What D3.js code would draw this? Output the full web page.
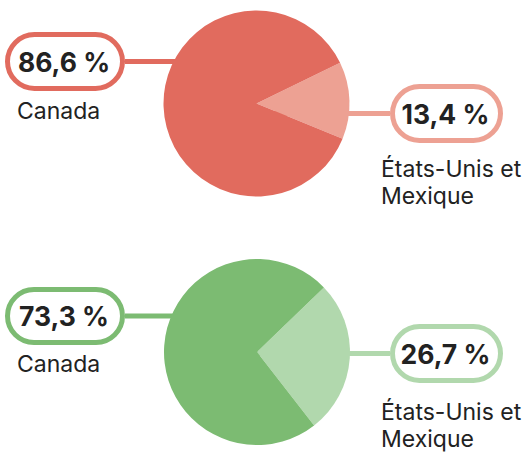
<!DOCTYPE html>
<html>
<head>
<meta charset="utf-8">
<script src="https://cdn.jsdelivr.net/npm/d3@7"></script>
<style>
  body { margin: 0; background: #fff; }
  svg { display: block; font-family: Inter, "Noto Sans", sans-serif; }
</style>
</head>
<body>
<svg width="529" height="452"></svg>
<script>
// Parts en pourcentage
const categories = ["Canada", "États-Unis et Mexique"];
const partsHaut = [86.6, 13.4];
const partsBas = [73.3, 26.7];

const fr = d3.formatLocale({decimal: ",", thousands: " ", grouping: [3], currency: ["", " $"]});
const fmt = v => fr.format(".1f")(v) + " %";

const svg = d3.select("svg");

function drawPie(values, opt) {
    const g = svg.append("g");
    const r = 93;

    // ordre : part claire d'abord, puis Canada
    const pie = d3.pie()
        .value(d => d.v)
        .sort(null)
        .startAngle(opt.start * Math.PI / 180)
        .endAngle(opt.start * Math.PI / 180 + 2 * Math.PI);
    const data = [{v: values[1], c: opt.light}, {v: values[0], c: opt.dark}];
    const arc = d3.arc().innerRadius(0).outerRadius(r);

    // lignes de rappel
    g.append("line")
        .attr("x1", opt.leftBox[0] + opt.leftBox[2]).attr("x2", opt.cx)
        .attr("y1", opt.leftBox[1] + opt.leftBox[3] / 2).attr("y2", opt.leftBox[1] + opt.leftBox[3] / 2)
        .attr("stroke", opt.dark).attr("stroke-width", 5);
    g.append("line")
        .attr("x1", opt.cx).attr("x2", opt.rightBox[0])
        .attr("y1", opt.rightBox[1] + opt.rightBox[3] / 2).attr("y2", opt.rightBox[1] + opt.rightBox[3] / 2)
        .attr("stroke", opt.light).attr("stroke-width", 5);

    g.append("g")
        .attr("transform", `translate(${opt.cx},${opt.cy})`)
        .selectAll("path")
        .data(pie(data))
        .join("path")
        .attr("d", arc)
        .attr("fill", d => d.data.c);

    const boxes = [
        {b: opt.leftBox, col: opt.dark, v: values[0], lab: [categories[0]], lx: 17, ly: opt.leftLabelY},
        {b: opt.rightBox, col: opt.light, v: values[1], lab: ["États-Unis et", "Mexique"], lx: 381, ly: opt.rightLabelY}
    ];
    boxes.forEach(d => {
        const [x, y, w, h] = d.b;
        g.append("rect")
            .attr("x", x + 2.5).attr("y", y + 2.5)
            .attr("width", w - 5).attr("height", h - 5)
            .attr("rx", (h - 5) / 2)
            .attr("fill", "#fff")
            .attr("stroke", d.col).attr("stroke-width", 5);
        g.append("text")
            .attr("x", x + w / 2 - 1).attr("y", y + h / 2 + 10)
            .attr("text-anchor", "middle")
            .attr("font-size", 26.5).attr("font-weight", "bold")
            .attr("fill", "#222")
            .text(fmt(d.v));
        d.lab.forEach((t, i) => {
            g.append("text")
                .attr("x", d.lx).attr("y", d.ly + i * 27)
                .attr("font-size", 23)
                .attr("fill", "#222")
                .text(t);
        });
    });
}

drawPie(partsHaut, {
    cx: 256.5, cy: 103.5, start: 64,
    dark: "#e16b5e", light: "#eda193",
    leftBox: [5, 32, 120, 59], rightBox: [390, 84, 113, 59],
    leftLabelY: 119, rightLabelY: 177
});

drawPie(partsBas, {
    cx: 257, cy: 352, start: 46,
    dark: "#7cbb72", light: "#b1d8ad",
    leftBox: [5, 287, 120, 58], rightBox: [390, 324, 113, 59],
    leftLabelY: 372, rightLabelY: 420
});
</script>
</body>
</html>
